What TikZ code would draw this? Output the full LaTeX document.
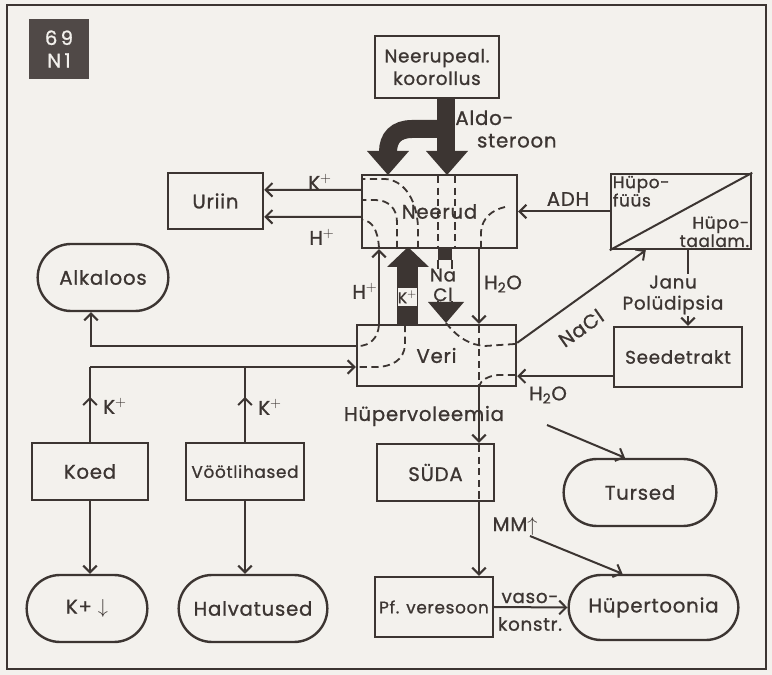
\documentclass[tikz,border=0pt]{standalone}
\usepackage{fontspec}
\setmainfont{Poppins}[LetterSpace=4, FakeBold=1]
\usetikzlibrary{arrows.meta,positioning,calc,shapes.misc,decorations.markings}
\definecolor{ink}{HTML}{3C3532}
\definecolor{paper}{HTML}{F3F1ED}

\begin{document}
\begin{tikzpicture}[x=0.025cm, y=-0.025cm, color=ink,
    every node/.style={font=\fontsize{14}{16}\selectfont, text=ink},
    box/.style={draw, line width=.6mm, inner sep=1pt},
    oval/.style={draw, line width=.6mm, rounded rectangle, minimum height=1.675cm},
    arr/.style={-{Straight Barb[length=1.7mm,width=3.4mm]}, line width=.5mm},
    pipe/.style={dash pattern=on 1.8mm off 1.1mm, line width=.45mm},
    midarr/.style={line width=.5mm, postaction=decorate, decoration={markings,
      mark=at position .6 with {\arrow{Straight Barb[length=1.7mm,width=3.4mm]}}}}]
  \useasboundingbox (0,0) rectangle (772,675);
  \fill[paper] (0,0) rectangle (772,675);
  \draw[line width=.7mm] (7,5) rectangle (766,669);
  \node[fill=ink!90, minimum width=1.475cm, minimum height=1.5cm, text=paper, align=center] (tag) at (59,49) {6\,9\\N\,1};

  % hormones
  \node[box, minimum width=3.1cm, minimum height=1.55cm, align=center, font=\fontsize{13}{16}\selectfont] (neerupeal) at (437,67) {Neerupeal.\\koorollus};
  \node[align=left] (aldo) at (506,129) {Aldo-\\\hspace*{1.1em}steroon};
  \fill (437,98) rectangle (455,152);
  \fill (426,151) -- (468,151) -- (447,175) -- cycle;
  \draw[line width=.45cm] (446,129) -- (412,129) .. controls (396,129) and (388,138) .. (388,152);
  \fill (367,151) -- (409,151) -- (388,175) -- cycle;

  % main boxes
  \node[box, minimum width=3.875cm, minimum height=1.825cm] (neerud) at (439.5,211.5) {Neerud};
  \node[box, minimum width=2.375cm, minimum height=1.4cm] (uriin) at (215.5,201) {Uriin};
  \node[box, minimum width=3.5cm, minimum height=1.875cm] (hypo) at (681,211.5) {};
  \draw[line width=.5mm] (hypo.south west) -- (hypo.north east);
  \node[anchor=north west, align=left, inner sep=2pt, font=\fontsize{12}{13}\selectfont] (hypof) at (hypo.north west) {Hüpo-\\füüs};
  \node[anchor=south east, align=right, inner sep=2pt, font=\fontsize{12}{13}\selectfont] (hypot) at (hypo.south east) {Hüpo-\\taalam.};
  \node[box, minimum width=3.2cm, minimum height=1.5cm, font=\fontsize{13}{15}\selectfont] (seede) at (678,357) {Seedetrakt};
  \node[box, minimum width=3.975cm, minimum height=1.525cm] (veri) at (436.5,355.5) {Veri};
  \node[oval, minimum width=3.5cm] (alkaloos) at (103,277.5) {Alkaloos};
  \node[box, minimum width=2.9cm, minimum height=1.425cm] (koed) at (90,471.5) {Koed};
  \node[box, minimum width=2.95cm, minimum height=1.425cm, font=\fontsize{12}{14}\selectfont] (voot) at (245,471.5) {Vöötlihased};
  \node[oval, minimum width=3.25cm] (kmin) at (87,608.5) {K+ $\downarrow$};
  \node[oval, minimum width=3.95cm] (halv) at (253,608.5) {Halvatused};
  \node[box, minimum width=2.925cm, minimum height=1.425cm] (suda) at (435.5,472.5) {SÜDA};
  \node[oval, minimum width=4.05cm] (tursed) at (640,492.5) {Tursed};
  \node[box, minimum width=2.95cm, minimum height=1.5cm, font=\fontsize{12}{14}\selectfont] (pf) at (434,607) {Pf. veresoon};
  \node[oval, minimum width=4.475cm, minimum height=1.625cm] (hyper) at (653.5,607.5) {Hüpertoonia};

  % thick arrows between kidney and blood
  \fill (397,266) rectangle (418,325);
  \fill (387,267) -- (429,267) -- (408,247) -- cycle;
  \node[fill=paper, draw, line width=.3mm, minimum width=.42cm, minimum height=.5cm, inner sep=0pt, font=\fontsize{11}{12}\selectfont] (kbox) at (407.5,297) {K$^+$};
  \fill (438,248) rectangle (452,260);
  \draw[line width=.4mm] (438,260) -- (438,303) (452,260) -- (452,303);
  \fill (428,302) -- (464,302) -- (446,323) -- cycle;
  \node[fill=paper, inner sep=0pt, align=center, font=\fontsize{13}{14}\selectfont] (nacl) at (443,285) {Na\\Cl};

  % dashed paths inside kidney
  \draw[pipe] (418,248) -- (418,226) .. controls (416,196) and (402,180) .. (385,179) -- (363,179);
  \draw[pipe] (397,248) -- (397,222) .. controls (397,208) and (388,200) .. (375,200) -- (363,200);
  \draw[pipe] (379,248) .. controls (378,230) and (372,221) .. (363,220);
  \draw[pipe] (438,176) -- (438,248) (455,176) -- (455,248);
  \draw[pipe] (481,248) -- (481,232) .. controls (482,218) and (492,210) .. (505,207);
  % dashed paths inside blood
  \draw[pipe] (379,325) .. controls (378,338) and (370,346) .. (358,346);
  \draw[pipe] (405,325) -- (405,345) .. controls (404,360) and (392,367) .. (375,367) -- (358,367);
  \draw[pipe] (446,323) .. controls (458,338) and (470,345) .. (485,346) -- (515,344);
  \draw[pipe] (479,326) -- (479,386);
  \draw[pipe] (515,375) -- (498,375) .. controls (488,376) and (481,380) .. (479,386);
  \draw[pipe] (479,445) -- (479,501);

  % connectors
  \coordinate (flow) at (479,0);
  \coordinate (hline) at (379,0);
  \coordinate (vin) at ($(veri.west)+(0,11.5)$);
  \draw[arr] ($(neerud.north west)+(0,16)$) -- ($(uriin.north east)+(0,18)$);
  \draw[arr] ($(neerud.north west)+(0,43)$) -- ($(uriin.north east)+(0,45)$);
  \draw[arr] (hypo.west) -- (hypo.west -| neerud.east);
  \draw[arr] ($(hypo.south)+(7,0)$) -- ($(seede.north)+(10,0)$);
  \draw[arr] ($(seede.south west)+(0,-12)$) -- ($(veri.south east)+(0,-11)$);
  \draw[arr] ($(veri.north east)+(0,19)$) -- ($(hypo.south west)+(36,0)$);
  \draw[arr] ($(veri.west)+(0,-9.5)$) -| ($(alkaloos.south)+(-12,0)$);
  \draw[midarr] (koed.north) -- (koed.north |- vin);
  \draw[midarr] (voot.north) -- (voot.north |- vin);
  \draw[arr] (koed.north |- vin) -- (vin);
  \draw[arr] (koed.south) -- (koed.south |- kmin.north);
  \draw[arr] (voot.south) -- (voot.south |- halv.north);
  \draw[arr] (neerud.south -| flow) -- (veri.north -| flow);
  \draw[arr] (veri.north -| hline) -- (neerud.south -| hline);
  \draw[arr] (veri.south -| flow) -- (suda.north -| flow);
  \draw[arr] (suda.south -| flow) -- (pf.north -| flow);
  \draw[arr] (pf.east) -- (hyper.west);
  \coordinate (mmstart) at (530,536);
  \draw[arr] (mmstart) -- ($(hyper.north)+(-31,0)$);
  \coordinate (wet) at (547,425);
  \draw[arr] (wet) -- ($(tursed.north)+(-15,0)$);

  % labels
  \node (kplus) at (320,182) {K$^+$};
  \node (hplus) at (322,237) {H$^+$};
  \node (adh) at (568,199) {ADH};
  \node[fill=paper, align=center, inner sep=1pt, font=\fontsize{13}{15}\selectfont] (janu) at (673,295) {Janu\\Polüdipsia};
  \node[rotate=35, inner sep=0pt] (nacllbl) at (581,328) {NaCl};
  \node (h2oa) at (548,395) {H\textsubscript{2}O};
  \node (h2ob) at (503,284) {H\textsubscript{2}O};
  \node (hpl2) at (365,291) {H$^+$};
  \node (hyvol) at (424,416) {Hüpervoleemia};
  \node (kt1) at (115,406) {K$^+$};
  \node (kt2) at (270,407) {K$^+$};
  \node (mm) at (515,526) {MM$\uparrow$};
  \node[font=\fontsize{13}{15}\selectfont] (vaso) at (530,598) {vaso-};
  \node[font=\fontsize{13}{15}\selectfont] (konstr) at (530,624) {konstr.};
\end{tikzpicture}
\end{document}
